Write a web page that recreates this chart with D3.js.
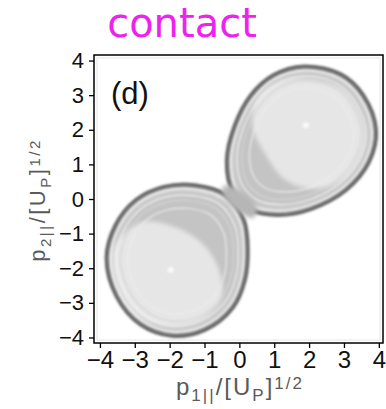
<!DOCTYPE html>
<html>
<head>
<meta charset="utf-8">
<script src="https://cdn.jsdelivr.net/npm/d3@7"></script>
<style>
    html, body { margin: 0; padding: 0; background: #fff; }
    svg { display: block; }
</style>
</head>
<body>
<div id="chart"></div>
<script>
// Axis ticks and ranges (units of [Up]^1/2)
const xTicks = [-4, -3, -2, -1, 0, 1, 2, 3, 4];
const yTicks = [-4, -3, -2, -1, 0, 1, 2, 3, 4];
const xDomain = [-4.17, 4.12];
const yDomain = [-4.16, 4.16];

// Outer (dark) edge of each lobe
const upperLobe = [
    [1.85, 3.83], [2.91, 3.60], [3.55, 3.00], [3.92, 1.99], [3.72, 1.07],
    [3.06, 0.26], [2.05, -0.29], [1.13, -0.46], [0.33, -0.32], [-0.19, 0.20],
    [-0.36, 1.12], [-0.13, 2.13], [0.33, 3.00], [0.96, 3.57]
];
const lowerLobe = [
    [-1.28, 0.40], [-0.39, 0.12], [0.13, -0.61], [0.24, -1.47], [0.16, -2.33],
    [-0.19, -3.14], [-0.99, -3.78], [-1.94, -3.95], [-2.83, -3.63], [-3.52, -2.82],
    [-3.81, -1.70], [-3.55, -0.75], [-2.97, -0.03], [-2.17, 0.35]
];

// Bright core of each lobe (what the grey crescent leaves uncovered)
const upperCore = [
    [1.77, 3.49], [2.91, 3.20], [3.49, 2.42], [3.58, 1.56], [3.20, 0.78],
    [2.63, 0.37], [1.91, 0.32], [1.25, 0.61], [0.76, 1.27], [0.39, 2.05],
    [0.47, 2.85], [0.96, 3.31]
];
const lowerCore = [
    [-3.66, -1.56], [-3.49, -2.62], [-2.91, -3.40], [-1.94, -3.69], [-1.08, -3.49],
    [-0.50, -2.82], [-0.62, -1.96], [-1.08, -1.27], [-1.85, -0.81], [-2.71, -0.66],
    [-3.29, -0.98]
];

// Grey bridge where the two lobes touch
const neck = [
    [-0.47, 0.37], [-0.01, 0.26], [0.50, -0.23], [0.39, -0.55], [-0.01, -0.37], [-0.42, 0.03]
];

// Lobe centres, faint inner rings (as fraction of the lobe size) and bright spots
const lobeCentres = [[1.80, 1.75], [-1.80, -1.85]];
const ringScales = [0.945, 0.905, 0.865, 0.80, 0.70];
const ringColours = ['#fbfbfb', '#d0d0d0', '#f4f4f4', '#d4d4d4', '#ececec'];
const hotSpots = [[1.91, 2.13], [-1.97, -2.05]];

const width = 386;
const height = 409;
const plot = { left: 94, right: 383, top: 55, bottom: 343 };

const x = d3.scaleLinear().domain(xDomain).range([plot.left, plot.right]);
const y = d3.scaleLinear().domain(yDomain).range([plot.bottom, plot.top]);

const svg = d3.select('#chart').append('svg')
    .attr('width', width)
    .attr('height', height);

const defs = svg.append('defs');
defs.append('clipPath')
    .attr('id', 'plot-clip')
    .append('rect')
    .attr('x', plot.left)
    .attr('y', plot.top)
    .attr('width', plot.right - plot.left)
    .attr('height', plot.bottom - plot.top);

const addBlur = (id, sd) => {
    defs.append('filter')
        .attr('id', id)
        .attr('x', '-20%').attr('y', '-20%')
        .attr('width', '140%').attr('height', '140%')
        .append('feGaussianBlur')
        .attr('stdDeviation', sd);
};
addBlur('soft', 2.2);
addBlur('ring', 1.1);
addBlur('spot', 1.5);

const outline = d3.line()
    .x(d => x(d[0]))
    .y(d => y(d[1]))
    .curve(d3.curveCatmullRomClosed);

const content = svg.append('g')
    .attr('clip-path', 'url(#plot-clip)');

// Faint edge of the embedded density image
content.append('rect')
    .attr('x', plot.left + 3)
    .attr('y', plot.top + 3)
    .attr('width', plot.right - plot.left - 6)
    .attr('height', plot.bottom - plot.top - 6)
    .attr('fill', 'none')
    .attr('stroke', '#e6e6e6');

const lobes = [upperLobe, lowerLobe];
const cores = [upperCore, lowerCore];

// Grey body of both lobes
content.selectAll('.lobe-fill')
    .data(lobes)
    .join('path')
    .attr('class', 'lobe-fill')
    .attr('d', outline)
    .attr('fill', '#c4c4c4')
    .attr('filter', 'url(#ring)');

// Bright cores
content.selectAll('.core')
    .data(cores)
    .join('path')
    .attr('class', 'core')
    .attr('d', outline)
    .attr('fill', '#e6e6e6')
    .attr('filter', 'url(#soft)');

// Faint rings, each lobe outline shrunk about its centre
lobes.forEach((lobe, i) => {
    const [cx, cy] = [x(lobeCentres[i][0]), y(lobeCentres[i][1])];
    content.append('g')
        .selectAll('path')
        .data(ringScales)
        .join('path')
        .attr('d', outline(lobe))
        .attr('transform', s => `translate(${cx},${cy}) scale(${s}) translate(${-cx},${-cy})`)
        .attr('fill', 'none')
        .attr('stroke', (s, j) => ringColours[j])
        .attr('stroke-width', (s, j) => j === 0 ? 2 : 1.2)
        .attr('vector-effect', 'non-scaling-stroke')
        .attr('filter', 'url(#spot)');
});

// Dark outer rim
content.selectAll('.rim')
    .data(lobes)
    .join('path')
    .attr('class', 'rim')
    .attr('d', outline)
    .attr('fill', 'none')
    .attr('stroke', '#6a6a6a')
    .attr('stroke-width', 4)
    .attr('filter', 'url(#ring)');

// Bridge between lobes softens the crossing rims
content.append('path')
    .attr('d', outline(neck))
    .attr('fill', '#b6b6b6')
    .attr('filter', 'url(#soft)');

content.selectAll('.spot')
    .data(hotSpots)
    .join('ellipse')
    .attr('class', 'spot')
    .attr('cx', d => x(d[0]))
    .attr('cy', d => y(d[1]))
    .attr('rx', 3)
    .attr('ry', 2.5)
    .attr('fill', '#ffffff')
    .attr('filter', 'url(#spot)');

// Axes
const xAxis = svg.append('g')
    .attr('transform', `translate(0,${plot.bottom})`)
    .call(d3.axisBottom(x).tickValues(xTicks).tickSize(5).tickSizeOuter(0).tickPadding(3));
xAxis.select('.domain').remove();
xAxis.selectAll('line').attr('stroke', '#000').attr('stroke-width', 1.3);
xAxis.selectAll('text')
    .attr('fill', '#111')
    .style('font-family', '"Liberation Sans", Arial, sans-serif')
    .style('font-size', '24px');

const yAxis = svg.append('g')
    .attr('transform', `translate(${plot.left},0)`)
    .call(d3.axisLeft(y).tickValues(yTicks).tickSize(5).tickSizeOuter(0).tickPadding(5));
yAxis.select('.domain').remove();
yAxis.selectAll('line').attr('stroke', '#000').attr('stroke-width', 1.3);
yAxis.selectAll('text')
    .attr('fill', '#111')
    .style('font-family', '"Liberation Sans", Arial, sans-serif')
    .style('font-size', '22px');

// Frame
svg.append('rect')
    .attr('x', plot.left)
    .attr('y', plot.top)
    .attr('width', plot.right - plot.left)
    .attr('height', plot.bottom - plot.top)
    .attr('fill', 'none')
    .attr('stroke', '#000')
    .attr('stroke-width', 1.5);

// Panel tag
svg.append('text')
    .attr('x', 111)
    .attr('y', 104)
    .attr('fill', '#111')
    .style('font-family', '"Liberation Sans", Arial, sans-serif')
    .style('font-size', '31px')
    .text('(d)');

// Title
svg.append('text')
    .attr('x', 182)
    .attr('y', 37)
    .attr('text-anchor', 'middle')
    .attr('fill', '#ee22ee')
    .style('font-family', '"DejaVu Sans", sans-serif')
    .style('font-size', '40px')
    .text('contact');

// Axis titles with sub/superscripts
const axisTitle = (g, sub, size, spacing) => {
    const small = Math.round(size * 0.7);
    g.style('font-family', '"Liberation Sans", Arial, sans-serif')
        .style('font-size', `${size}px`)
        .style('letter-spacing', `${spacing}px`)
        .attr('fill', '#5a5a5a');
    g.append('tspan').text('p');
    g.append('tspan').attr('dy', size * 0.25).style('font-size', `${small}px`).text(sub);
    g.append('tspan').attr('dy', -size * 0.25).text('/[U');
    g.append('tspan').attr('dy', size * 0.25).style('font-size', `${small}px`).text('P');
    g.append('tspan').attr('dy', -size * 0.25).text(']');
    g.append('tspan').attr('dy', -size * 0.25).style('font-size', `${small}px`).text('1/2');
};

svg.append('text')
    .attr('x', 240)
    .attr('y', 395)
    .attr('text-anchor', 'middle')
    .call(axisTitle, '1||', 24, 2);

svg.append('text')
    .attr('transform', 'translate(45,200) rotate(-90)')
    .attr('text-anchor', 'middle')
    .call(axisTitle, '2||', 22, 2.5);
</script>
</body>
</html>
